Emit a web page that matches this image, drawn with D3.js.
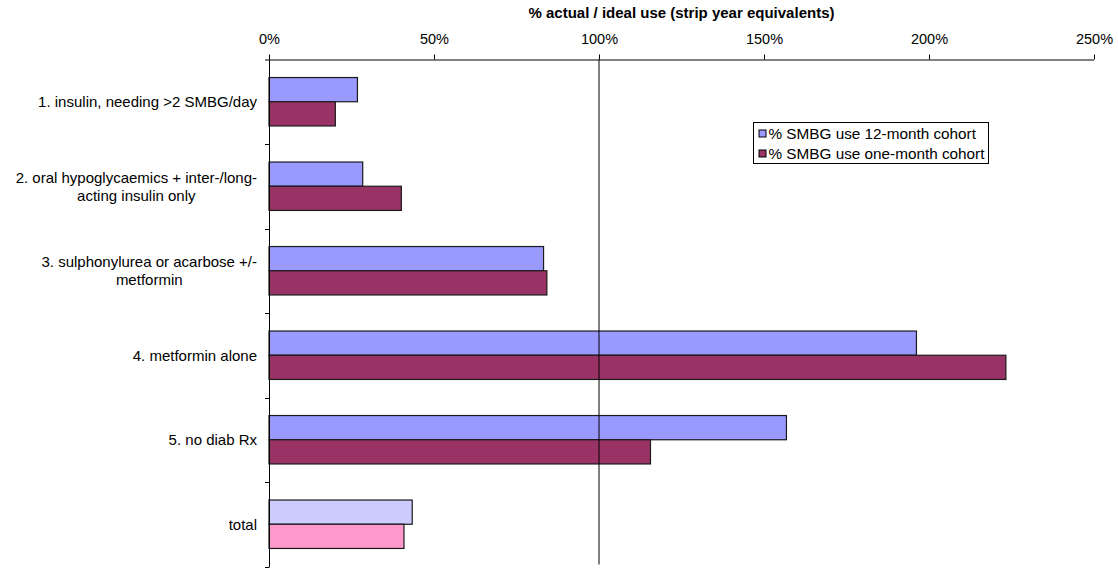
<!DOCTYPE html>
<html>
<head>
<meta charset="utf-8">
<script src="https://cdn.jsdelivr.net/npm/d3@7/dist/d3.min.js"></script>
<style>
  html, body { margin: 0; padding: 0; background: #fff; }
  svg { display: block; font-family: "Liberation Sans", Arial, sans-serif; }
</style>
</head>
<body>
<svg id="chart" width="1118" height="569"></svg>
<script>
// Treatment groups (line breaks mark where the label wraps)
const categories = [
  "1. insulin, needing >2 SMBG/day",
  "2. oral hypoglycaemics + inter-/long-\nacting insulin only",
  "3. sulphonylurea or acarbose +/-\nmetformin",
  "4. metformin alone",
  "5. no diab Rx",
  "total"
];
const seriesNames = ["% SMBG use 12-month cohort", "% SMBG use one-month cohort"];
// % actual / ideal use, per group
const cohort12Month = [26.8, 28.4, 83.2, 196.2, 156.8, 43.4];
const cohortOneMonth = [20.1, 40.1, 84.2, 223.3, 115.6, 40.9];
const xTicks = [0, 50, 100, 150, 200, 250];
const referenceLine = 100;
const axisTitle = "% actual / ideal use (strip year equivalents)";

const seriesColors = ["#9999FF", "#993366"];
const totalColors = ["#CCCCFF", "#FF99CC"];

const svg = d3.select("#chart");
const plotLeft = 269, plotRight = 1094, plotTop = 59.5, plotBottom = 566.5;

const x = d3.scaleLinear().domain([0, 250]).range([plotLeft, plotRight]);
const y = d3.scaleBand().domain(categories).range([plotTop, plotBottom]).paddingInner(0).paddingOuter(0);
const ySub = d3.scaleBand().domain([0, 1]).range([0, y.bandwidth()]).paddingInner(0).paddingOuter(0.745);

const rows = categories.map((c, i) => ({ cat: c, vals: [cohort12Month[i], cohortOneMonth[i]], isTotal: c === "total" }));

// Bars
const g = svg.append("g");
rows.forEach(r => {
  r.vals.forEach((v, s) => {
    g.append("rect")
      .attr("x", x(0))
      .attr("y", y(r.cat) + ySub(s))
      .attr("width", x(v) - x(0))
      .attr("height", ySub.bandwidth())
      .attr("fill", r.isTotal ? totalColors[s] : seriesColors[s])
      .attr("stroke", "#1a1a1a")
      .attr("stroke-width", 1.2);
  });
});

// Reference line at 100%
svg.append("line")
  .attr("x1", x(referenceLine)).attr("x2", x(referenceLine))
  .attr("y1", plotTop).attr("y2", plotBottom - 2)
  .attr("stroke", "#000").attr("stroke-width", 1);

// Top axis
const xAxis = d3.axisTop(x).tickValues(xTicks).tickFormat(d => d + "%").tickSize(5).tickSizeOuter(0).tickPadding(11);
const gx = svg.append("g").attr("transform", `translate(0,${plotTop})`).call(xAxis);
gx.select(".domain").attr("d", `M${plotLeft - 4},0.5H${plotRight}`).attr("stroke", "#000");
gx.selectAll(".tick line").attr("stroke", "#000");
gx.selectAll(".tick text").attr("font-size", 14.5).attr("fill", "#000")
  .attr("font-family", "'Liberation Sans', Arial, sans-serif");

svg.append("text")
  .attr("x", (plotLeft + plotRight) / 2).attr("y", 18)
  .attr("text-anchor", "middle")
  .attr("font-size", 15).attr("font-weight", "bold")
  .text(axisTitle);

// Left axis: vertical line with ticks between groups
const gy = svg.append("g");
gy.append("line").attr("x1", plotLeft + 0.5).attr("x2", plotLeft + 0.5).attr("y1", plotTop).attr("y2", plotBottom + 1)
  .attr("stroke", "#000").attr("stroke-width", 1);
const boundaries = categories.map(c => y(c) + y.bandwidth());
gy.selectAll("line.tick").data(boundaries).join("line")
  .attr("class", "tick")
  .attr("x1", plotLeft - 4).attr("x2", plotLeft)
  .attr("y1", d => Math.round(d) + 0.5).attr("y2", d => Math.round(d) + 0.5)
  .attr("stroke", "#000");

// Category labels: right-aligned block, lines centred within it
const labelRight = 257, lineH = 18;
categories.forEach(c => {
  const lines = c.split("\n");
  const cy = y(c) + y.bandwidth() / 2;
  const grp = svg.append("g");
  const texts = lines.map((ln, i) => grp.append("text")
    .attr("font-size", 15)
    .attr("y", cy + (i - (lines.length - 1) / 2) * lineH)
    .attr("dy", "0.35em")
    .attr("text-anchor", "middle")
    .text(ln));
  const widths = texts.map(t => t.node().getComputedTextLength());
  const maxW = d3.max(widths);
  texts.forEach(t => t.attr("x", labelRight - maxW / 2));
});

// Legend
const lg = svg.append("g").attr("transform", "translate(753.5,122.5)");
lg.append("rect").attr("width", 235).attr("height", 41).attr("fill", "#fff").attr("stroke", "#000").attr("stroke-width", 1);
seriesNames.forEach((n, i) => {
  const ry = 11 + i * 20;
  lg.append("rect").attr("x", 5.5).attr("y", ry - 3.5).attr("width", 7).attr("height", 7)
    .attr("fill", seriesColors[i]).attr("stroke", "#000").attr("stroke-width", 1);
  lg.append("text").attr("x", 15).attr("y", ry).attr("dy", "0.35em")
    .attr("font-size", 15.3).text(n);
});
</script>
</body>
</html>
